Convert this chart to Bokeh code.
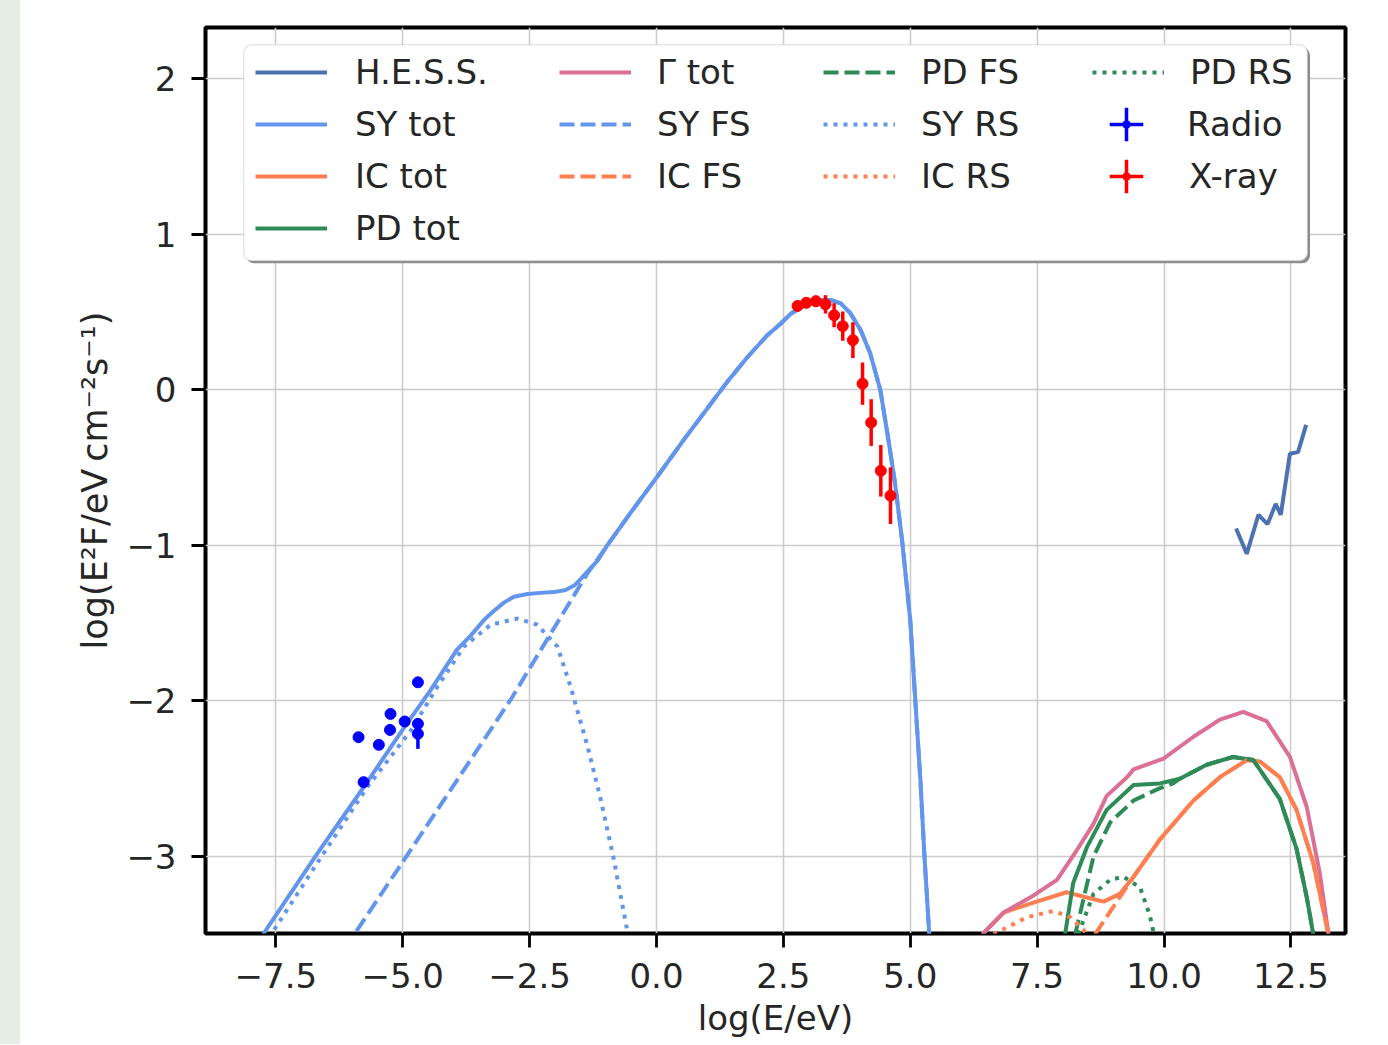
import numpy as np
from bokeh.plotting import figure
from bokeh.models import Range1d, FixedTicker, Legend, LegendItem, BoxAnnotation, Div
from bokeh.layouts import row
from bokeh.embed import file_html
from bokeh.resources import INLINE

FONT = "DejaVu Sans"
TXT = "#262626"

# ---------------- data ----------------
x_ticks = [-7.5, -5.0, -2.5, 0.0, 2.5, 5.0, 7.5, 10.0, 12.5]
x_tick_labels = ["\u22127.5", "\u22125.0", "\u22122.5", "0.0", "2.5", "5.0", "7.5", "10.0", "12.5"]
y_ticks = [-3, -2, -1, 0, 1, 2]
y_tick_labels = ["\u22123", "\u22122", "\u22121", "0", "1", "2"]

hess_x = [11.42, 11.63, 11.86, 12.04, 12.20, 12.30, 12.48, 12.64, 12.80]
hess_y = [-0.891, -1.054, -0.803, -0.863, -0.733, -0.803, -0.411, -0.400, -0.225]

sy_tot_x = [-7.75, -6.68, -5.76, -4.97, -4.45, -4.19, -3.93, -3.66, -3.40, -3.20, -3.00, -2.81,
            -2.54, -2.28, -2.02, -1.79, -1.62, -1.49, -1.33, -1.16, -0.97, -0.51, 0.01, 0.54,
            1.00, 1.39, 1.79, 2.18, 2.45, 2.64, 2.84, 3.04, 3.23, 3.43, 3.63, 3.82, 4.02, 4.21,
            4.41, 4.57, 4.70, 4.84, 5.00, 5.10, 5.20, 5.28, 5.38]
sy_tot_y = [-3.50, -2.98, -2.55, -2.17, -1.93, -1.80, -1.67, -1.58, -1.48, -1.42, -1.366, -1.33,
            -1.312, -1.305, -1.30, -1.286, -1.258, -1.215, -1.157, -1.098, -1.00, -0.79, -0.56, -0.32,
            -0.12, 0.05, 0.21, 0.35, 0.427, 0.488, 0.530, 0.560, 0.578, 0.578, 0.556, 0.493, 0.386, 0.236,
            0.0, -0.321, -0.60, -0.97, -1.48, -2.0, -2.51, -3.0, -3.53]

ic_tot_x = [6.42, 6.84, 7.49, 8.08, 8.44, 8.81, 9.13, 9.40, 9.92, 10.58, 11.10, 11.63, 11.89,
            12.28, 12.61, 12.94, 13.24]
ic_tot_y = [-3.50, -3.36, -3.29, -3.23, -3.26, -3.29, -3.24, -3.13, -2.89, -2.64, -2.49, -2.38,
            -2.39, -2.49, -2.70, -3.04, -3.50]

pd_tot_x = [8.05, 8.21, 8.48, 8.87, 9.40, 9.92, 10.31, 10.84, 11.36, 11.76, 12.28, 12.61, 12.81, 12.94]
pd_tot_y = [-3.50, -3.17, -2.94, -2.70, -2.54, -2.53, -2.50, -2.41, -2.36, -2.38, -2.63, -2.95, -3.26, -3.50]

gamma_tot_x = [6.42, 6.84, 7.43, 7.89, 8.28, 8.61, 8.87, 9.27, 9.40, 9.99, 10.58, 11.10, 11.56,
               12.02, 12.48, 12.81, 13.07, 13.24]
gamma_tot_y = [-3.50, -3.36, -3.25, -3.15, -2.96, -2.79, -2.61, -2.49, -2.44, -2.37, -2.23, -2.12,
               -2.07, -2.13, -2.36, -2.68, -3.11, -3.50]

sy_fs_x = [-5.91, -4.97, -3.93, -2.87, -2.09, -1.36, -0.97, -0.51, 0.01, 0.54, 1.00, 1.39, 1.79,
           2.18, 2.45, 2.64, 2.84, 3.04, 3.23, 3.43, 3.63, 3.82, 4.02, 4.21, 4.41, 4.57, 4.70,
           4.84, 5.00, 5.10, 5.20, 5.28, 5.38]
sy_fs_y = [-3.48, -3.02, -2.51, -1.99, -1.57, -1.18, -1.00, -0.79, -0.56, -0.32, -0.12, 0.05, 0.21,
           0.35, 0.427, 0.488, 0.530, 0.560, 0.578, 0.578, 0.556, 0.493, 0.386, 0.236, 0.0, -0.321,
           -0.60, -0.97, -1.48, -2.0, -2.51, -3.0, -3.53]

ic_fs_x = [8.64, 9.13, 9.36, 9.40, 9.92, 10.58, 11.10, 11.63, 11.89, 12.28, 12.61, 12.94, 13.24]
ic_fs_y = [-3.50, -3.26, -3.15, -3.13, -2.89, -2.64, -2.49, -2.38, -2.39, -2.49, -2.70, -3.04, -3.50]

pd_fs_x = [8.25, 8.61, 8.94, 9.40, 9.92, 10.18, 10.31, 10.84, 11.36, 11.76, 12.28, 12.61, 12.81, 12.94]
pd_fs_y = [-3.50, -3.00, -2.78, -2.64, -2.56, -2.53, -2.50, -2.41, -2.36, -2.38, -2.63, -2.95, -3.26, -3.50]

sy_rs_x = [-7.53, -6.68, -5.69, -4.84, -4.32, -3.79, -3.27, -2.74, -2.35, -1.95, -1.69, -1.36,
           -1.10, -0.84, -0.58]
sy_rs_y = [-3.47, -3.04, -2.55, -2.19, -1.91, -1.65, -1.51, -1.47, -1.51, -1.65, -1.91, -2.29,
           -2.63, -3.02, -3.47]

ic_rs_x = [6.64, 7.30, 7.82, 8.15, 8.41, 8.47]
ic_rs_y = [-3.50, -3.39, -3.35, -3.39, -3.47, -3.50]

pd_rs_x = [8.31, 8.61, 8.94, 9.20, 9.53, 9.72, 9.80]
pd_rs_y = [-3.50, -3.24, -3.15, -3.13, -3.20, -3.38, -3.50]

radio_x = [-5.87, -5.77, -5.47, -5.25, -5.24, -4.96, -4.70, -4.70, -4.70]
radio_y = [-2.233, -2.522, -2.282, -2.186, -2.083, -2.132, -1.880, -2.147, -2.211]
radio_err = [0.02, 0.02, 0.02, 0.02, 0.02, 0.02, 0.02, 0.02, 0.097]

xray_x = [2.78, 2.95, 3.14, 3.33, 3.50, 3.67, 3.87, 4.06, 4.23, 4.42, 4.61]
xray_y = [0.54, 0.56, 0.57, 0.55, 0.48, 0.41, 0.32, 0.04, -0.21, -0.52, -0.68]
xray_err = [0.015, 0.02, 0.036, 0.059, 0.077, 0.094, 0.115, 0.136, 0.15, 0.166, 0.182]

# ---------------- figure ----------------
C_HESS = "#4c72b0"
C_SY = "#6495ed"
C_IC = "#ff7f50"
C_PD = "#2e8b57"
C_G = "#db7093"
LW = 4
DASH = "15 6"
DOT = "4 6"

p = figure(width=1367, height=1044, x_range=Range1d(-8.885, 13.575), y_range=Range1d(-3.495, 2.330),
           output_backend="svg", toolbar_location=None,
           min_border_left=185, min_border_right=42, min_border_top=27, min_border_bottom=111)
p.background_fill_color = "white"
p.border_fill_color = "white"
p.outline_line_color = "black"
p.outline_line_width = 4

p.xaxis.ticker = FixedTicker(ticks=x_ticks)
p.yaxis.ticker = FixedTicker(ticks=y_ticks)
p.xaxis.major_label_overrides = dict(zip(x_ticks, x_tick_labels))
p.yaxis.major_label_overrides = dict(zip(y_ticks, y_tick_labels))
for ax in (p.xaxis[0], p.yaxis[0]):
    ax.axis_line_color = None
    ax.major_tick_line_color = "black"
    ax.major_tick_line_width = 2.8
    ax.major_tick_in = 0
    ax.major_tick_out = 14
    ax.minor_tick_line_color = None
    ax.major_label_text_font = FONT
    ax.major_label_text_font_size = "34px"
    ax.major_label_text_color = TXT
    ax.axis_label_text_font = FONT
    ax.axis_label_text_font_size = "34px"
    ax.axis_label_text_font_style = "normal"
    ax.axis_label_text_color = TXT
p.xaxis.major_label_standoff = 15
p.xaxis.axis_label_standoff = 7
p.yaxis.major_label_standoff = 15
p.yaxis.axis_label_standoff = 8
p.yaxis.axis_label_text_font_size = "35px"
p.xaxis.axis_label = "log(E/eV)"
p.yaxis.axis_label = "log(E\u00b2F/eV\u2009cm\u207b\u00b2s\u207b\u00b9)"
p.grid.grid_line_color = "#cccccc"
p.grid.grid_line_width = 1.6

# ---------------- curves ----------------
r_hess = p.line(hess_x, hess_y, line_color=C_HESS, line_width=LW)
r_sy_tot = p.line(sy_tot_x, sy_tot_y, line_color=C_SY, line_width=LW)
r_ic_tot = p.line(ic_tot_x, ic_tot_y, line_color=C_IC, line_width=LW)
r_pd_tot = p.line(pd_tot_x, pd_tot_y, line_color=C_PD, line_width=LW)
r_g_tot = p.line(gamma_tot_x, gamma_tot_y, line_color=C_G, line_width=LW)
r_sy_fs = p.line(sy_fs_x, sy_fs_y, line_color=C_SY, line_width=LW, line_dash=DASH)
r_ic_fs = p.line(ic_fs_x, ic_fs_y, line_color=C_IC, line_width=LW, line_dash=DASH)
r_pd_fs = p.line(pd_fs_x, pd_fs_y, line_color=C_PD, line_width=LW, line_dash=DASH)
r_sy_rs = p.line(sy_rs_x, sy_rs_y, line_color=C_SY, line_width=LW, line_dash=DOT)
r_ic_rs = p.line(ic_rs_x, ic_rs_y, line_color=C_IC, line_width=LW, line_dash=DOT)
r_pd_rs = p.line(pd_rs_x, pd_rs_y, line_color=C_PD, line_width=LW, line_dash=DOT)

# ---------------- data points ----------------
rx = np.array(radio_x); ry = np.array(radio_y); re = np.array(radio_err)
p.segment(x0=rx, y0=ry - re, x1=rx, y1=ry + re, line_color="blue", line_width=3.5)
p.scatter(rx, ry, size=11, color="blue")
xx = np.array(xray_x); xy = np.array(xray_y); xe = np.array(xray_err)
p.segment(x0=xx, y0=xy - xe, x1=xx, y1=xy + xe, line_color="red", line_width=3.5)
p.scatter(xx, xy, size=11, color="red")

# legend-only glyphs (errorbar cross with dot)
nan = np.array([np.nan])
radio_cross = p.scatter(nan, nan, marker="cross", size=10, line_color="blue", line_width=3.5)
radio_dot = p.scatter(nan, nan, marker="dot", size=10, line_color="blue", fill_color="blue", line_width=3.5)
xray_cross = p.scatter(nan, nan, marker="cross", size=10, line_color="red", line_width=3.5)
xray_dot = p.scatter(nan, nan, marker="dot", size=10, line_color="red", fill_color="red", line_width=3.5)

# ---------------- legend box ----------------
box_l, box_r, box_t, box_b = -8.132, 12.826, 2.2185, 0.830
shadow = BoxAnnotation(left=box_l + 0.05, right=box_r + 0.05, top=box_t - 0.016, bottom=box_b - 0.016,
                       fill_color="#8c8c8c", fill_alpha=1.0, line_color=None, border_radius=8)
frame_box = BoxAnnotation(left=box_l, right=box_r, top=box_t, bottom=box_b,
                          fill_color="white", fill_alpha=1.0, line_color="#b0b0b0", line_width=1.5,
                          border_radius=8)
p.add_layout(shadow)
p.add_layout(frame_box)


def mk_legend(items, loc, gw=72, gh=40, standoff=26):
    lg = Legend(items=items, location=loc, orientation="vertical",
                glyph_width=gw, glyph_height=gh, label_height=gh, label_width=20,
                spacing=12, padding=0, margin=0, label_standoff=standoff,
                label_text_font=FONT, label_text_font_size="34px", label_text_color=TXT,
                border_line_alpha=0, background_fill_alpha=0)
    p.add_layout(lg)
    return lg


mk_legend([LegendItem(label="H.E.S.S.", renderers=[r_hess]),
           LegendItem(label="SY tot", renderers=[r_sy_tot]),
           LegendItem(label="IC tot", renderers=[r_ic_tot]),
           LegendItem(label="PD tot", renderers=[r_pd_tot])], (50, 685), standoff=28)
mk_legend([LegendItem(label="\u0393 tot", renderers=[r_g_tot]),
           LegendItem(label="SY FS", renderers=[r_sy_fs]),
           LegendItem(label="IC FS", renderers=[r_ic_fs])], (354, 737))
mk_legend([LegendItem(label="PD FS", renderers=[r_pd_fs]),
           LegendItem(label="SY RS", renderers=[r_sy_rs]),
           LegendItem(label="IC RS", renderers=[r_ic_rs])], (618, 737))
mk_legend([LegendItem(label="PD RS", renderers=[r_pd_rs])], (887, 841))
mk_legend([LegendItem(label="Radio", renderers=[radio_cross, radio_dot])], (879, 767),
          gw=84, gh=84, standoff=19)
mk_legend([LegendItem(label="X-ray", renderers=[xray_cross, xray_dot])], (879, 715),
          gw=84, gh=84, standoff=21)

strip = Div(width=20, height=1044, margin=0, styles={"background-color": "#e4eee4"})
layout = row(strip, p)

open("out.html", "w").write(file_html(layout, INLINE))
